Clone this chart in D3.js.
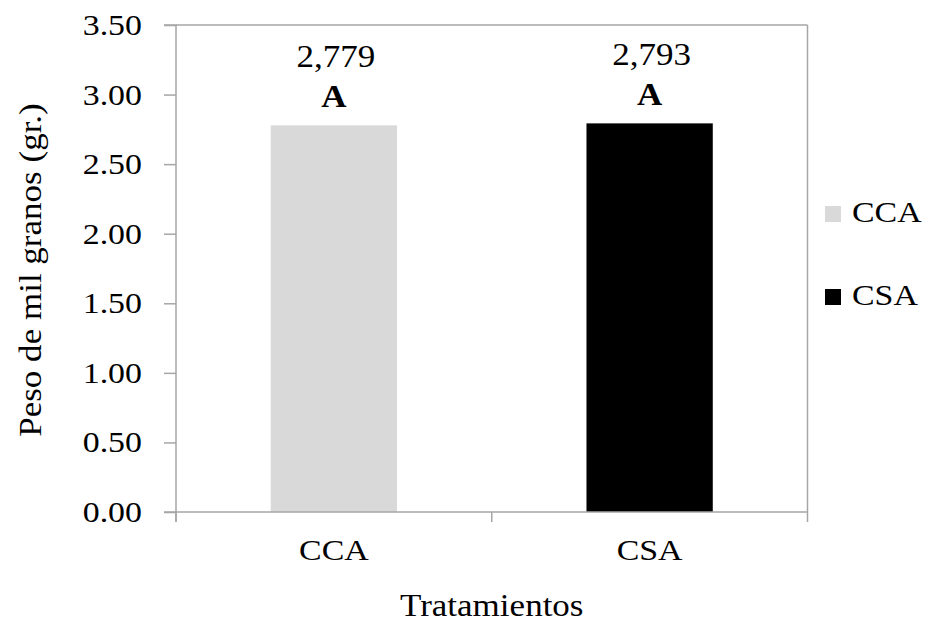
<!DOCTYPE html>
<html><head><meta charset="utf-8">
<script src="https://cdn.jsdelivr.net/npm/d3@7"></script>
<style>body{margin:0;background:#fff}svg{display:block}</style>
</head><body>
<svg id="c" width="927" height="623"></svg>
<script>
const categories = ["CCA", "CSA"];
const values = [2.779, 2.793];
const valueLabels = ["2,779", "2,793"];
const letters = ["A", "A"];
const colors = ["#d9d9d9", "#000000"];
const yTicks = [0, 0.5, 1, 1.5, 2, 2.5, 3, 3.5];

const FONT = '"Liberation Serif", "Times New Roman", Times, serif';
const SX = 1.13; // horizontal stretch of the reference's text
const svg = d3.select("#c");
const L = 176, R = 807.5, T = 25, B = 512;
const x = d3.scaleBand().domain(categories).range([L, R]).paddingInner(0).paddingOuter(0);
const y = d3.scaleLinear().domain([0, 3.5]).range([B, T]);
const axisColor = "#a6a6a6";

function txt(parent, px, py, str, size, anchor, bold, rot) {
  const g = parent.append("g").attr("transform", `translate(${px},${py})` + (rot ? ` rotate(${rot})` : "") + ` scale(${SX},1)`);
  return g.append("text").attr("x", 0).attr("y", 0)
    .attr("text-anchor", anchor || "start")
    .style("font-family", FONT).style("font-size", size + "px")
    .style("font-weight", bold ? "bold" : "normal").style("fill", "#000")
    .text(str);
}

// plot border (top and right)
svg.append("line").attr("x1", L).attr("x2", R).attr("y1", T).attr("y2", T).attr("stroke", axisColor).attr("stroke-width", 1.5);
svg.append("line").attr("x1", R).attr("x2", R).attr("y1", T).attr("y2", B).attr("stroke", axisColor).attr("stroke-width", 1.5);

// bars
const bw = x.bandwidth() * 0.4;
svg.selectAll("rect.bar").data(categories).enter().append("rect")
  .attr("class", "bar")
  .attr("x", (d) => x(d) + (x.bandwidth() - bw) / 2)
  .attr("width", bw)
  .attr("y", (d, i) => y(values[i]))
  .attr("height", (d, i) => B - y(values[i]))
  .attr("fill", (d, i) => colors[i]);

// y axis (lines from d3 axis, labels stretched like the reference)
const yAxis = d3.axisLeft(y).tickValues(yTicks).tickFormat("").tickSize(12);
const gy = svg.append("g").attr("transform", `translate(${L},0)`).call(yAxis);
gy.select(".domain").attr("stroke", axisColor).attr("stroke-width", 1.5).attr("d", `M-12,${T}H0V${B + 10}`);
gy.selectAll(".tick line").attr("stroke", axisColor).attr("stroke-width", 1.5);
const fmt = d3.format(".2f");
yTicks.forEach(v => txt(svg, 142, y(v) + 10, fmt(v), 30, "end"));

// x axis
svg.append("line").attr("x1", L - 12).attr("x2", R).attr("y1", B).attr("y2", B).attr("stroke", axisColor).attr("stroke-width", 1.5);
const bounds = [L, ...categories.map(c => x(c) + x.bandwidth())];
svg.selectAll("line.tk").data(bounds).enter().append("line").attr("class", "tk")
  .attr("x1", d => d).attr("x2", d => d).attr("y1", B).attr("y2", B + 10)
  .attr("stroke", axisColor).attr("stroke-width", 1.5);
categories.forEach(c => txt(svg, x(c) + x.bandwidth() / 2, 560, c, 30, "middle"));

// value labels and letters
categories.forEach((c, i) => {
  const cx = x(c) + x.bandwidth() / 2;
  txt(svg, cx + 2, y(values[i]) - 58, valueLabels[i], 31, "middle");
  txt(svg, cx, y(values[i]) - 18, letters[i], 31, "middle", true);
});

// axis titles
txt(svg, (L + R) / 2, 616, "Tratamientos", 31, "middle");
txt(svg, 41, 270, "Peso de mil granos (gr.)", 31, "middle", false, -90);

// legend
const legY = [206, 289];
categories.forEach((c, i) => {
  svg.append("rect").attr("x", 825).attr("y", legY[i]).attr("width", 16).attr("height", 16).attr("fill", colors[i]);
  txt(svg, 852, legY[i] + 16, c, 30, "start");
});
</script>
</body></html>
